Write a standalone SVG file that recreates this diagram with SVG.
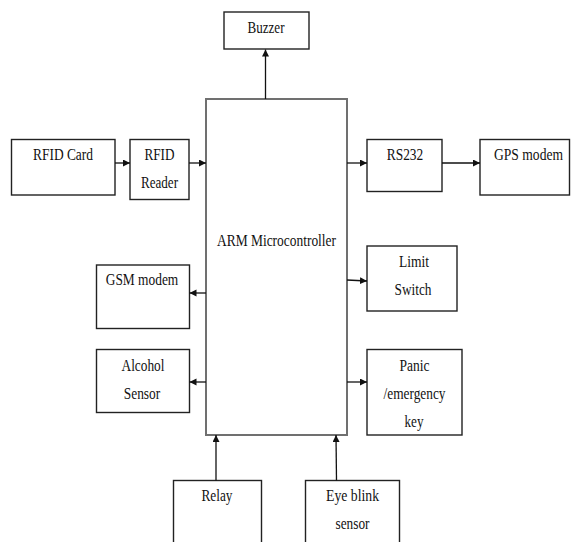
<svg xmlns="http://www.w3.org/2000/svg" width="571" height="542" viewBox="0 0 571 542">
<style>
.box{fill:#fff;stroke:#222;stroke-width:1.4}
.main{fill:#fff;stroke:#707070;stroke-width:2}
text{font-family:"Liberation Serif","Times New Roman",serif;font-size:16px;fill:#111;text-anchor:middle}
.c line{stroke:#111;stroke-width:1.3;marker-end:url(#ah)}
</style>
<defs>
<marker id="ah" markerUnits="userSpaceOnUse" markerWidth="8" markerHeight="8" refX="7" refY="3.5" orient="auto">
<path d="M0,0 L7,3.5 L0,7 Z" fill="#111"/>
</marker>
</defs>
<rect width="571" height="542" fill="#fff"/>
<g id="buzzer"><rect class="box" x="224" y="12" width="85" height="37"/><text x="266" y="33" textLength="37" lengthAdjust="spacingAndGlyphs">Buzzer</text></g>
<g id="arm"><rect class="main" x="206" y="99" width="141" height="336"/><text x="276.5" y="246" textLength="119" lengthAdjust="spacingAndGlyphs">ARM Microcontroller</text></g>
<g id="rfidcard"><rect class="box" x="11.5" y="139.5" width="103.5" height="55.5"/><text x="63" y="160" textLength="60" lengthAdjust="spacingAndGlyphs">RFID Card</text></g>
<g id="rfidreader"><rect class="box" x="130" y="139.5" width="59" height="60"/><text x="159.5" y="160" textLength="30" lengthAdjust="spacingAndGlyphs">RFID</text><text x="159.5" y="188" textLength="37" lengthAdjust="spacingAndGlyphs">Reader</text></g>
<g id="rs232"><rect class="box" x="367" y="139.5" width="75" height="52"/><text x="405" y="160" textLength="36.5" lengthAdjust="spacingAndGlyphs">RS232</text></g>
<g id="gps"><rect class="box" x="480" y="139.5" width="89.5" height="55.5"/><text x="528.5" y="160" textLength="69" lengthAdjust="spacingAndGlyphs">GPS modem</text></g>
<g id="limit"><rect class="box" x="367" y="246" width="90" height="65"/><text x="414" y="267" textLength="30" lengthAdjust="spacingAndGlyphs">Limit</text><text x="413" y="295" textLength="37" lengthAdjust="spacingAndGlyphs">Switch</text></g>
<g id="gsm"><rect class="box" x="96.5" y="265" width="93" height="63.5"/><text x="142" y="285" textLength="72.5" lengthAdjust="spacingAndGlyphs">GSM modem</text></g>
<g id="alcohol"><rect class="box" x="96.5" y="349.5" width="93" height="63"/><text x="143" y="371" textLength="43" lengthAdjust="spacingAndGlyphs">Alcohol</text><text x="142" y="399" textLength="36.5" lengthAdjust="spacingAndGlyphs">Sensor</text></g>
<g id="panic"><rect class="box" x="367" y="349.5" width="95" height="85.5"/><text x="414.5" y="371" textLength="30" lengthAdjust="spacingAndGlyphs">Panic</text><text x="414.5" y="399" textLength="62" lengthAdjust="spacingAndGlyphs">/emergency</text><text x="414" y="427" textLength="19" lengthAdjust="spacingAndGlyphs">key</text></g>
<g id="relay"><rect class="box" x="173.5" y="480.5" width="88" height="80"/><text x="217" y="501" textLength="31" lengthAdjust="spacingAndGlyphs">Relay</text></g>
<g id="eyeblink"><rect class="box" x="305.5" y="480.5" width="94" height="80"/><text x="352.5" y="501" textLength="53" lengthAdjust="spacingAndGlyphs">Eye blink</text><text x="352.5" y="529" textLength="34" lengthAdjust="spacingAndGlyphs">sensor</text></g>
<g class="c" id="connectors">
<line x1="265.5" y1="99" x2="265.5" y2="49.5"/>
<line x1="115" y1="163" x2="130" y2="163"/>
<line x1="189" y1="163" x2="206" y2="163"/>
<line x1="347" y1="163" x2="367" y2="163"/>
<line x1="442" y1="163" x2="480" y2="163"/>
<line x1="347" y1="280" x2="367" y2="281"/>
<line x1="206" y1="293" x2="189.5" y2="293"/>
<line x1="206" y1="382" x2="189.5" y2="382"/>
<line x1="347" y1="382" x2="367" y2="382"/>
<line x1="216" y1="480.5" x2="216" y2="435"/>
<line x1="336.5" y1="480.5" x2="336" y2="435"/>
</g>
</svg>
